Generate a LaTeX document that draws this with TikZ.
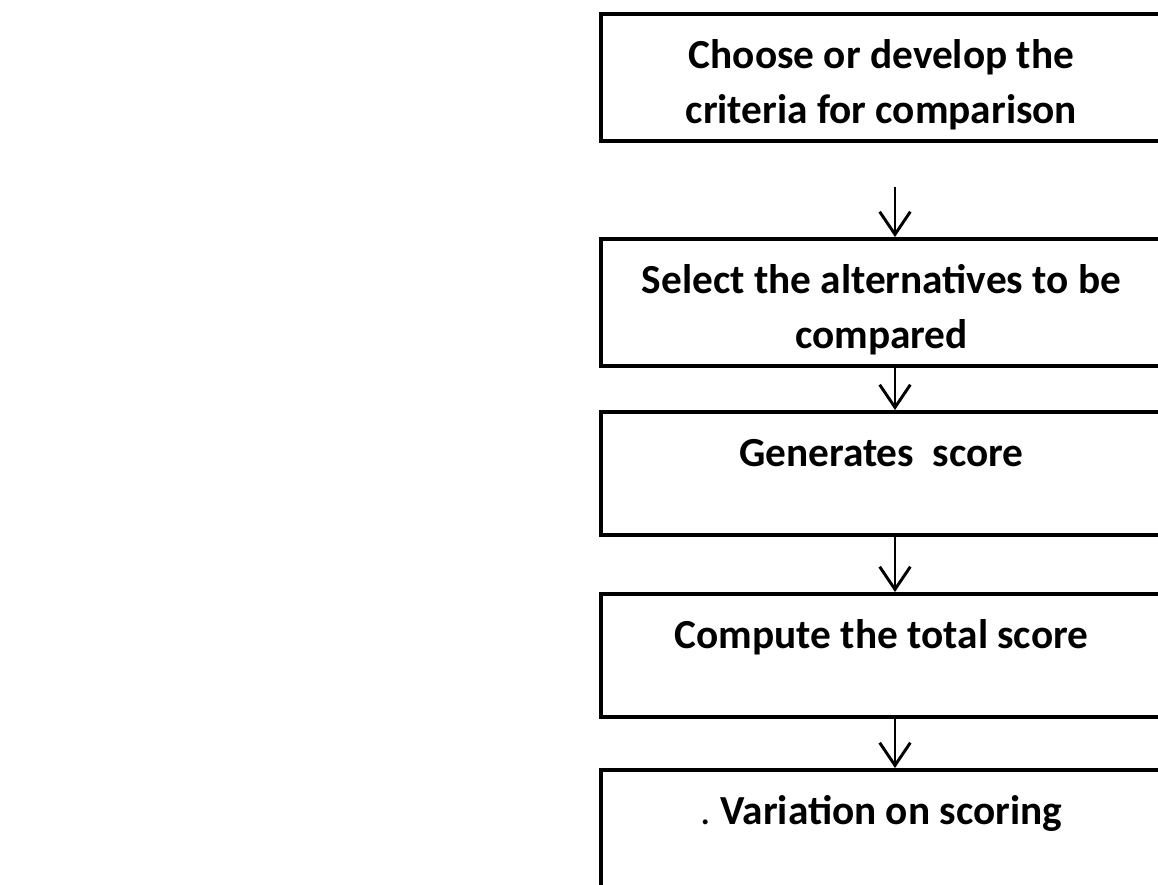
\documentclass[tikz,border=0pt]{standalone}
\usepackage{fontspec}
\setmainfont{Carlito}
\usetikzlibrary{arrows.meta}

\tikzset{
  stepbox/.style={draw, line width=3pt, anchor=north, align=center,
    minimum width=420.75pt, inner ysep=0pt, text height=41pt, text depth=51pt,
    font=\bfseries\fontsize{31}{41}\selectfont},
  twoline/.style={text height=82pt, text depth=13pt},
  flow/.style={line width=2.2pt, -{Straight Barb[length=17pt,width=23pt,line width=2.2pt]}}
}

\begin{document}
\begin{tikzpicture}[x=0.75pt,y=0.75pt,yscale=-1,xscale=1]
\clip (0,0) rectangle (1158,885);

\node[stepbox,twoline] (crit) at (881.5,12)  {Choose or develop the\\criteria for comparison};
\node[stepbox,twoline] (alt)  at (881.5,237) {Select the alternatives to be\\compared};
\node[stepbox] (gen)  at (881.5,410) {Generates~~score};
\node[stepbox] (tot)  at (881.5,592) {Compute the total score};
\node[stepbox] (var)  at (881.5,768) {{\mdseries.}\ Variation on scoring};

% arrows sit a little right of the box centres
\coordinate (ax) at (895,0);
\coordinate (a1) at (895,187);

\draw[flow] (a1) -- (alt.north -| ax);
\draw[flow] (alt.south -| ax) -- (gen.north -| ax);
\draw[flow] (gen.south -| ax) -- (tot.north -| ax);
\draw[flow] (tot.south -| ax) -- (var.north -| ax);

\end{tikzpicture}
\end{document}
